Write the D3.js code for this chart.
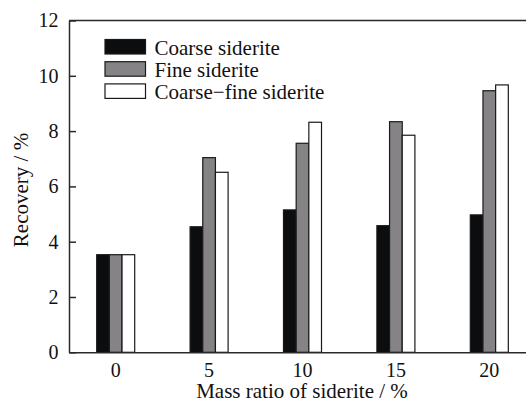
<!DOCTYPE html>
<html>
<head>
<meta charset="utf-8">
<script src="https://cdn.jsdelivr.net/npm/d3@7"></script>
<style>
  html, body { margin: 0; padding: 0; background: #fff; }
  svg { display: block; font-family: "Liberation Serif", "Times New Roman", serif; }
</style>
</head>
<body>
<svg id="chart" width="526" height="403"></svg>
<script>
// Mass ratio of siderite (%) on the x axis
const categories = ["0", "5", "10", "15", "20"];
const seriesNames = ["Coarse siderite", "Fine siderite", "Coarse\u2212fine siderite"];
const coarse = [3.53, 4.54, 5.15, 4.58, 4.97];
const fine = [3.53, 7.04, 7.56, 8.34, 9.46];
const coarseFine = [3.53, 6.51, 8.32, 7.85, 9.67];
const yTicks = [0, 2, 4, 6, 8, 10, 12];
const fills = ["#0b0d0e", "#858385", "#ffffff"];

const seriesValues = [coarse, fine, coarseFine];
const rows = categories.map((c, i) => ({
  cat: c,
  vals: seriesNames.map((s, j) => ({ key: s, value: seriesValues[j][i], idx: j }))
}));

const svg = d3.select("#chart");
const plotLeft = 69, plotRight = 536, plotTop = 20.5, plotBottom = 352.3;

const x0 = d3.scaleBand().domain(categories).range([plotLeft, plotRight])
  .paddingInner(0.593).paddingOuter(0.2965);
const x1 = d3.scaleBand().domain(seriesNames).range([0, x0.bandwidth()]);
const y = d3.scaleLinear().domain([0, 12]).range([plotBottom, plotTop]);

const axisColor = "#2a2a2a";

// bars
const groups = svg.append("g").selectAll("g").data(rows).join("g")
  .attr("transform", d => `translate(${x0(d.cat)},0)`);
groups.selectAll("rect").data(d => d.vals).join("rect")
  .attr("x", d => x1(d.key))
  .attr("y", d => y(d.value))
  .attr("width", x1.bandwidth())
  .attr("height", d => y(0) - y(d.value))
  .attr("fill", d => fills[d.idx])
  .attr("stroke", "#1a1a1a")
  .attr("stroke-width", 1.2);

// top frame line
svg.append("line")
  .attr("x1", plotLeft).attr("x2", plotRight)
  .attr("y1", y(12)).attr("y2", y(12))
  .attr("stroke", axisColor).attr("stroke-width", 1.5);

// y axis with inward ticks
const yAxis = svg.append("g").attr("transform", `translate(${plotLeft},0)`)
  .call(d3.axisLeft(y).tickValues(yTicks).tickFormat(d3.format("d"))
    .tickSizeInner(-7).tickSizeOuter(0).tickPadding(10.5));
yAxis.selectAll("text").attr("font-size", 20).attr("fill", "#111")
  .attr("font-family", "Liberation Serif, serif");
yAxis.selectAll("line, path").attr("stroke", axisColor).attr("stroke-width", 1.5);

// x axis
const xAxis = svg.append("g").attr("transform", `translate(0,${plotBottom})`)
  .call(d3.axisBottom(x0).tickSize(0).tickSizeOuter(0).tickPadding(10.5));
xAxis.selectAll("text").attr("font-size", 20).attr("fill", "#111")
  .attr("font-family", "Liberation Serif, serif");
xAxis.selectAll("path").attr("stroke", axisColor).attr("stroke-width", 1.5);

// axis titles
svg.append("text")
  .attr("x", (plotLeft + plotRight) / 2 - 0.5).attr("y", 398)
  .attr("text-anchor", "middle").attr("font-size", 21).attr("fill", "#111")
  .text("Mass ratio of siderite / %");
svg.append("text")
  .attr("transform", "translate(28,190) rotate(-90)")
  .attr("text-anchor", "middle").attr("font-size", 21).attr("fill", "#111")
  .text("Recovery / %");

// legend
const legend = svg.append("g").attr("transform", "translate(105,39.5)");
const item = legend.selectAll("g").data(seriesNames).join("g")
  .attr("transform", (d, i) => `translate(0,${i * 22.2})`);
item.append("rect")
  .attr("width", 40.5).attr("height", 14.5)
  .attr("fill", (d, i) => fills[i])
  .attr("stroke", "#1a1a1a").attr("stroke-width", 1.2);
item.append("text")
  .attr("x", 49.5).attr("y", 15)
  .attr("font-size", 21).attr("fill", "#111")
  .text(d => d);
</script>
</body>
</html>
